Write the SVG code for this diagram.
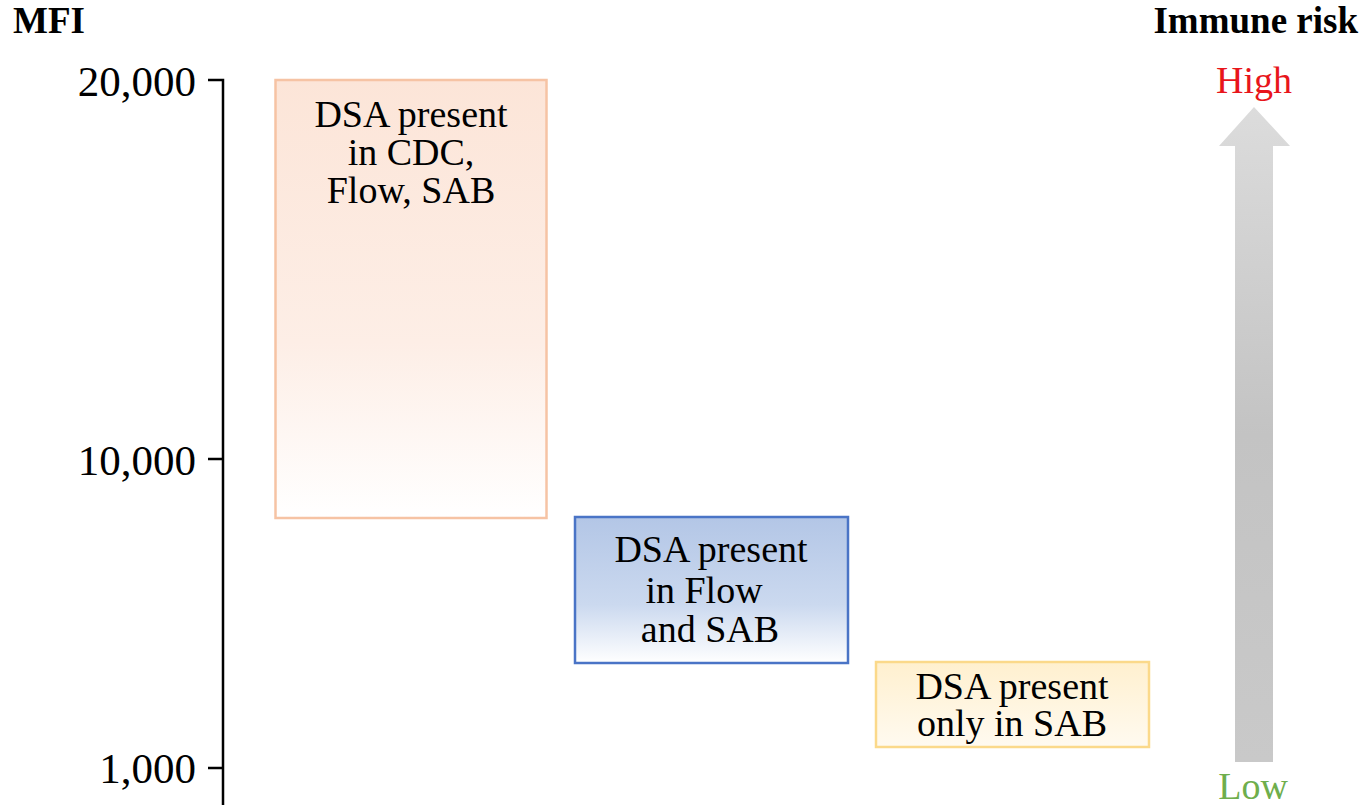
<svg xmlns="http://www.w3.org/2000/svg" width="1366" height="805" viewBox="0 0 1366 805">
<style>
text{font-family:"Liberation Serif","Tinos","Times New Roman",serif;fill:#000}
.title{font-weight:bold;font-size:37px}
.tick{font-size:43px;text-anchor:end}
.box{font-size:38px;text-anchor:middle}
.axis{stroke:#000;stroke-width:2.5;fill:none}
</style>
<defs>
<linearGradient id="gO" x1="0" y1="0" x2="0" y2="1">
<stop offset="0" stop-color="#fce5d8"/><stop offset="0.6" stop-color="#fdeee6"/><stop offset="1" stop-color="#ffffff"/>
</linearGradient>
<linearGradient id="gB" x1="0" y1="0" x2="0" y2="1">
<stop offset="0" stop-color="#b3c6e6"/><stop offset="0.6" stop-color="#cbd9ef"/><stop offset="1" stop-color="#ffffff"/>
</linearGradient>
<linearGradient id="gY" x1="0" y1="0" x2="0" y2="1">
<stop offset="0" stop-color="#fff0cf"/><stop offset="1" stop-color="#fffaf0"/>
</linearGradient>
<linearGradient id="gA" x1="0" y1="0" x2="0" y2="1">
<stop offset="0" stop-color="#dcdcdc"/><stop offset="0.5" stop-color="#c3c3c3"/><stop offset="1" stop-color="#c9c9c9"/>
</linearGradient>
</defs>
<g id="titles">
<text class="title" x="13" y="33">MFI</text>
<text class="title" x="1358" y="33" text-anchor="end">Immune risk</text>
</g>
<g id="y-axis">
<path class="axis" d="M208 80H223V805M208 459H223M208 768H223"/>
<text class="tick" x="196" y="96">20,000</text>
<text class="tick" x="196" y="475">10,000</text>
<text class="tick" x="196" y="783">1,000</text>
</g>
<g id="box-cdc">
<rect x="275.5" y="80" width="271" height="438" fill="url(#gO)" stroke="#f6c3a4" stroke-width="2.5"/>
<text class="box" x="411" y="127">DSA present</text>
<text class="box" x="411" y="165">in CDC,</text>
<text class="box" x="411" y="203">Flow, SAB</text>
</g>
<g id="box-flow">
<rect x="575" y="517" width="273" height="146" fill="url(#gB)" stroke="#4a74c6" stroke-width="2.5"/>
<text class="box" x="711" y="562">DSA present</text>
<text class="box" x="704" y="603">in Flow</text>
<text class="box" x="710" y="642">and SAB</text>
</g>
<g id="box-sab">
<rect x="876" y="662" width="273" height="85" fill="url(#gY)" stroke="#fbd98a" stroke-width="2.5"/>
<text class="box" x="1012" y="699" font-size="37">DSA present</text>
<text class="box" x="1012" y="736" font-size="37">only in SAB</text>
</g>
<g id="risk-arrow">
<path d="M1254 107L1290 146H1273V762H1235V146H1219Z" fill="url(#gA)"/>
<text x="1254" y="93" font-size="38" text-anchor="middle" style="fill:#e8151b">High</text>
<text x="1253" y="799" font-size="38" text-anchor="middle" style="fill:#6fae4c">Low</text>
</g>
</svg>
